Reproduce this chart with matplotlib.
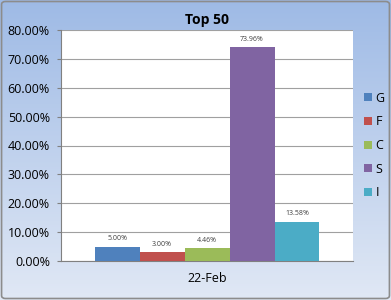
import matplotlib.pyplot as plt
import numpy as np
from matplotlib.patches import FancyBboxPatch

# data
series = ['G', 'F', 'C', 'S', 'I']
values = [5.00, 3.00, 4.46, 73.96, 13.58]
category = '22-Feb'
colors = ['#4f81bd', '#c0504d', '#9bbb59', '#8064a2', '#4bacc6']

plt.rcParams['font.family'] = ['Open Sans', 'DejaVu Sans']

fig = plt.figure(figsize=(3.91, 3.00), dpi=100)

# gradient background
bg = fig.add_axes([0, 0, 1, 1], zorder=-10)
top = np.array([0.62, 0.73, 0.90])
bot = np.array([0.88, 0.91, 0.96])
t = np.linspace(0, 1, 256)[:, None]
grad = top * (1 - t[:, :, None]) + bot * t[:, :, None]
bg.imshow(np.repeat(grad, 2, axis=1), aspect='auto', extent=[0, 1, 0, 1])
bg.add_patch(FancyBboxPatch((0.004, 0.005), 0.992, 0.99, boxstyle='round,pad=0,rounding_size=0.01',
                            fill=False, edgecolor='#8c8c8c', lw=1.2, transform=bg.transAxes))
bg.set_xlim(0, 1)
bg.set_ylim(0, 1)
bg.axis('off')

ax = fig.add_axes([0.156, 0.13, 0.747, 0.77])
ax.set_facecolor('white')
w = 0.154
x0 = 0.5 - w * 2
for i, (s, v, c) in enumerate(zip(series, values, colors)):
    x = x0 + i * w
    ax.bar(x, v, width=w, color=c, label=s, zorder=3)
    ax.text(x, v + 1.5, f'{v:.2f}%', ha='center', va='bottom', fontsize=5, color='#404040')

ax.set_xlim(0, 1)
ax.set_ylim(0, 80)
ax.set_yticks(np.arange(0, 81, 10))
ax.set_yticklabels([f'{v:.2f}%' for v in range(0, 81, 10)], fontsize=9)
ax.set_xticks([0.5])
ax.set_xticklabels([category], fontsize=9)
ax.tick_params(axis='x', length=0, pad=8)
ax.tick_params(axis='y', length=3, color='#808080', pad=5)
ax.yaxis.grid(True, color='#a0a0a0', lw=0.8, zorder=0)
for sp in ['top', 'right']:
    ax.spines[sp].set_visible(False)
ax.spines['left'].set_color('#808080')
ax.spines['bottom'].set_color('#808080')
ax.set_title('Top 50', fontsize=10, fontweight='bold', pad=4)

ax.legend(loc='center left', bbox_to_anchor=(1.0, 0.5), frameon=False, fontsize=9,
          handlelength=0.6, handleheight=0.6, handletextpad=0.3, labelspacing=0.85)

fig.savefig('out.png', dpi=100)
